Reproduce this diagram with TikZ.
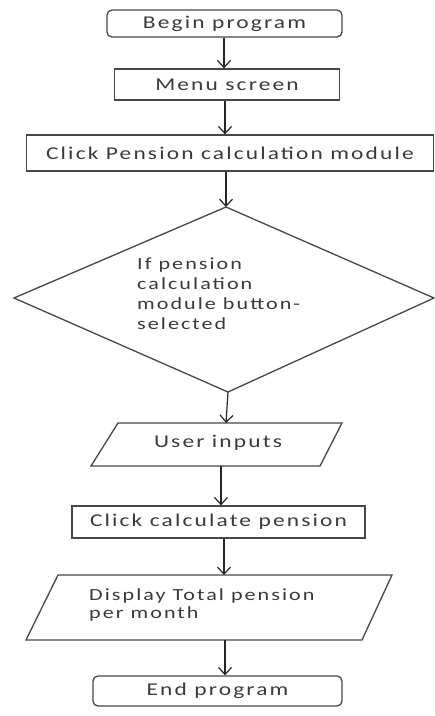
\documentclass[tikz,border=0pt]{standalone}
\usepackage{fontspec}
\setmainfont{Carlito}[FakeStretch=1.3,LetterSpace=12]
\usetikzlibrary{arrows.meta,shapes.geometric}
\definecolor{linec}{HTML}{474747}
\definecolor{textc}{HTML}{3A3A3A}
\tikzset{
  box/.style={draw=linec,line width=1.3pt,fill=white,inner sep=0pt,text=textc,font=\fontsize{18}{20}\selectfont},
  roundbox/.style={box,rounded corners=5pt},
  shapeline/.style={draw=linec,line width=1.3pt},
  label/.style={text=textc,font=\fontsize{18}{20}\selectfont,inner sep=0pt},
  arr/.style={draw=black!85,line width=1.2pt,-{Straight Barb[length=7pt,width=13pt,line width=1.2pt]}}
}
\begin{document}
\begin{tikzpicture}[x=1pt,y=-1pt]
\useasboundingbox (0,0) rectangle (435,716);
% boxes
\node[roundbox,minimum width=235pt,minimum height=27pt] (begin) at (224.5,23.5) {Begin program};
\node[box,minimum width=225pt,minimum height=31pt] (menu) at (227,84.5) {Menu screen};
\node[box,minimum width=407pt,minimum height=36pt] (clickpm) at (230,153) {Click Pension calculation module};
% decision
\coordinate (dtop) at (226,207);
\coordinate (dleft) at (14,298);
\coordinate (dright) at (434,298);
\coordinate (dbot) at (228,392);
\draw[shapeline] (dtop) -- (dright) -- (dbot) -- (dleft) -- cycle;
\node[label,align=left,anchor=north west,font=\fontsize{17}{20}\selectfont] (dectext) at (137,258) {If pension\\calculation\\module button-\\selected};
% user inputs
\coordinate (utl) at (118,423);
\coordinate (utr) at (342,423);
\coordinate (ubr) at (320,466);
\coordinate (ubl) at (91,466);
\draw[shapeline] (utl) -- (utr) -- (ubr) -- (ubl) -- cycle;
\coordinate (utop) at (226,423);
\coordinate (ubot) at (221,466);
\node[label] (usertext) at (218,443) {User inputs};
% calculate
\node[box,minimum width=293pt,minimum height=32pt] (calc) at (218.5,522) {Click calculate pension};
% display
\coordinate (ptl) at (58,575);
\coordinate (ptr) at (392,575);
\coordinate (pbr) at (362,640);
\coordinate (pbl) at (26,640);
\draw[shapeline] (ptl) -- (ptr) -- (pbr) -- (pbl) -- cycle;
\coordinate (ptop) at (224,575);
\coordinate (pbot) at (225,640);
\node[label,align=left,anchor=north west,font=\fontsize{17}{18.5}\selectfont] (disptext) at (89,588) {Display Total pension\\per month};
% end
\node[roundbox,minimum width=249pt,minimum height=30pt] (end) at (217.5,691) {End program};
% arrows
\draw[arr] (begin.south -| 224,0) -- (menu.north -| 224,0);
\draw[arr] (menu.south -| 225,0) -- (clickpm.north -| 225,0);
\draw[arr] (clickpm.south -| 226,0) -- (dtop);
\draw[arr] (dbot) -- (utop);
\draw[arr] (ubot) -- (calc.north -| 221,0);
\draw[arr] (calc.south -| 224,0) -- (ptop);
\draw[arr] (pbot) -- (end.north -| 225,0);
\end{tikzpicture}
\end{document}
